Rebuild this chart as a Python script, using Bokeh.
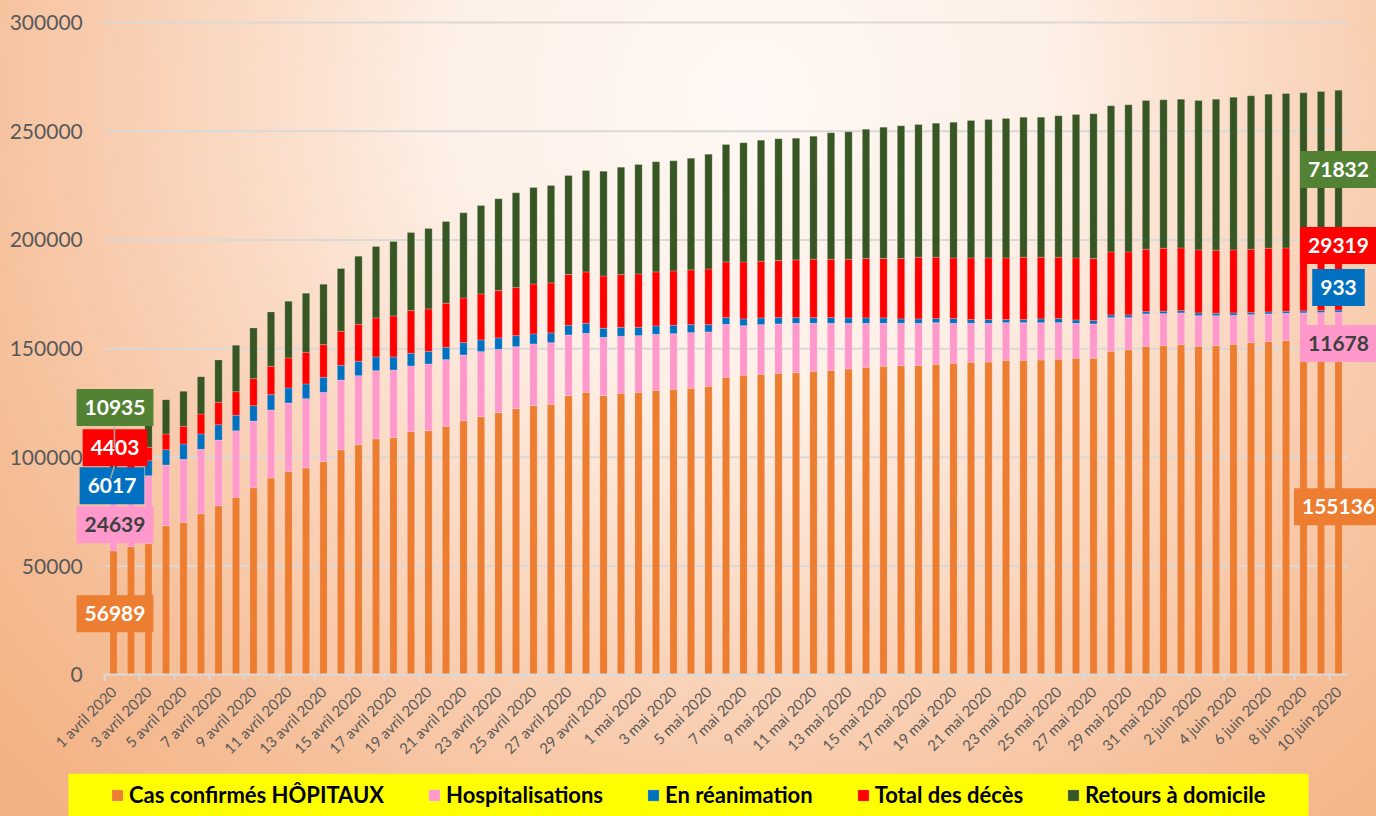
import math
from bokeh.plotting import figure
from bokeh.models import (ColumnDataSource, Range1d, FixedTicker, NumeralTickFormatter,
                          Label, Legend, LegendItem)
from bokeh.embed import file_html
from bokeh.resources import INLINE

# ---------------- data ----------------
mois = [("avril", 30), ("mai", 31), ("juin", 10)]
categories = [f"{d} {m} 2020" for m, n in mois for d in range(1, n + 1)]

cas_confirmes = [56989, 58900, 60300, 68550, 70090, 74080, 77760, 81590, 86040, 90490,
                 93400, 95090, 98010, 103530, 105830, 108440, 109050, 111810, 112270, 114270,
                 116870, 118720, 120560, 122400, 123780, 124390, 128380, 129910, 128380, 129450,
                 129910, 130830, 131290, 131750, 132670, 136820, 137740, 138200, 138660, 138960,
                 139580, 140040, 140650, 141420, 141880, 142190, 142190, 142800, 143260, 143720,
                 143870, 144640, 144640, 144790, 145100, 145560, 145560, 148780, 149550, 151080,
                 151390, 151850, 151080, 151390, 152000, 152770, 153230, 153690, 154170, 154650,
                 155136]
hospitalisations = [24639, 27800, 31280, 27920, 28990, 29600, 30220, 30680, 30680, 31290,
                    31600, 31910, 31910, 32060, 31750, 31450, 31140, 30220, 30680, 30680,
                    30220, 29910, 29140, 28530, 28380, 28380, 27920, 27150, 26840, 26230,
                    26080, 25770, 25620, 25620, 25010, 24390, 22860, 22860, 22700, 22700,
                    22090, 21630, 21020, 20250, 19790, 19480, 19480, 19170, 18410, 17950,
                    17800, 17330, 17330, 17180, 16870, 16110, 15800, 15490, 14730, 14880,
                    14730, 14570, 14110, 13810, 13350, 12890, 12730, 12580, 12280, 11980,
                    11678]
reanimation = [6017, 6400, 6900, 7060, 7060, 7060, 7060, 7060, 7060, 7060,
               6900, 6750, 6900, 6750, 6600, 6290, 5980, 5830, 5830, 5680,
               5680, 5370, 5220, 5060, 4600, 4450, 4450, 4600, 4140, 4140,
               3840, 3840, 3840, 3680, 3370, 3070, 3070, 3070, 2920, 2610,
               2610, 2610, 2450, 2450, 2450, 1990, 1990, 1840, 2150, 1690,
               1690, 1380, 1380, 1690, 1840, 1530, 1530, 1230, 1230, 1070,
               1070, 1070, 1230, 1070, 1070, 920, 920, 920, 925, 930,
               933]
deces = [4403, 5200, 6120, 7210, 8130, 9200, 10280, 10890, 12420, 13040,
         13810, 14570, 15030, 15650, 17030, 17950, 18870, 19640, 19480, 20250,
         20560, 21170, 21780, 22090, 23010, 23010, 23320, 23620, 24080, 24240,
         24540, 24850, 25000, 25160, 25620, 25620, 26230, 26080, 26230, 26540,
         26850, 26850, 27000, 27310, 27310, 27770, 28380, 28230, 27920, 28380,
         28380, 28380, 28690, 28380, 28230, 28530, 28530, 28990, 28990, 28690,
         29000, 28840, 28990, 28990, 28990, 29150, 29300, 29150, 29210, 29260,
         29319]
retours = [10935, 13500, 15400, 15800, 16110, 17180, 19480, 21320, 23320, 25000,
           26080, 27150, 27770, 28840, 31290, 32830, 34210, 35900, 36970, 37580,
           39120, 40650, 42190, 43570, 44330, 44790, 45560, 46630, 48170, 49400,
           50320, 50620, 50620, 51390, 52770, 54000, 54760, 55680, 55990, 55990,
           56600, 58140, 58600, 59520, 60440, 61050, 61050, 61670, 62430, 63200,
           63660, 64120, 64430, 64430, 65040, 65960, 66580, 67190, 67650, 68410,
           68260, 68410, 68720, 69490, 70250, 70560, 70870, 71020, 71080, 71460,
           71832]

series_names = ["Cas confirmés HÔPITAUX", "Hospitalisations", "En réanimation",
                "Total des décès", "Retours à domicile"]
y_ticks = [0, 50000, 100000, 150000, 200000, 250000, 300000]

# ---------------- styles ----------------
colors = ["#ED7D31", "#FF99CC", "#0070C0", "#FF0000", "#375623"]
label_bg = ["#ED7D31", "#FF99CC", "#0070C0", "#FF0000", "#548235"]
label_fg = ["white", "#404040", "white", "white", "white"]
FONT = "Lato"
GRID = "#D9D9D9"

keys = ["cas", "hosp", "rea", "dec", "ret"]
series = [cas_confirmes, hospitalisations, reanimation, deces, retours]
n = len(categories)
src = ColumnDataSource(dict(x=list(range(n)), **{k: v for k, v in zip(keys, series)}))

# the frame covers the whole canvas; axes are pinned at x=-0.5 and y=0
p = figure(width=1376, height=816, output_backend="svg", toolbar_location=None,
           x_range=Range1d(-6.457, 72.171), y_range=Range1d(-65187, 310120),
           min_border_left=0, min_border_right=0, min_border_top=0, min_border_bottom=0,
           background_fill_alpha=0, border_fill_alpha=0, outline_line_color=None)

# horizontal gridlines limited to the category span
gy = y_ticks[1:]
p.segment(x0=[-0.5] * len(gy), x1=[n - 0.5] * len(gy), y0=gy, y1=gy,
          line_color=GRID, line_width=2, level="underlay")

renderers = p.vbar_stack(keys, x="x", width=0.42, fill_color=colors, line_color="white",
                         line_alpha=0.3, line_width=0.7, source=src)

# axes
p.yaxis.fixed_location = -0.5
p.yaxis.ticker = FixedTicker(ticks=y_ticks)
p.yaxis.formatter = NumeralTickFormatter(format="0")
p.yaxis.axis_line_color = None
p.yaxis.major_tick_line_color = None
p.yaxis.minor_tick_line_color = None
p.yaxis.major_tick_out = 0
p.yaxis.major_tick_in = 0
p.yaxis.major_label_standoff = 22
p.yaxis.major_label_text_font = FONT
p.yaxis.major_label_text_font_size = "21px"
p.yaxis.major_label_text_color = "#595959"

tick_positions = list(range(0, n, 2))
p.xaxis.fixed_location = 0
p.xaxis.ticker = FixedTicker(ticks=tick_positions, minor_ticks=[t - 0.5 for t in tick_positions])
p.xaxis.bounds = (-0.5, n - 0.5)
p.xaxis.major_label_overrides = {t: categories[t] for t in tick_positions}
p.xaxis.major_label_orientation = math.pi / 4
p.xaxis.major_label_text_font = FONT
p.xaxis.major_label_text_font_size = "15px"
p.xaxis.major_label_text_color = "#595959"
p.xaxis.major_label_standoff = 8
p.xaxis.axis_line_color = GRID
p.xaxis.axis_line_width = 2
p.xaxis.major_tick_line_color = None
p.xaxis.major_tick_out = 0
p.xaxis.major_tick_in = 0
p.xaxis.minor_tick_line_color = GRID
p.xaxis.minor_tick_line_width = 2
p.xaxis.minor_tick_out = 6
p.xaxis.minor_tick_in = 0

p.xgrid.grid_line_color = None
p.ygrid.grid_line_color = None

# ---------------- value labels on first / last bars ----------------
left_pos = [(0.086, 28100), (0.086, 69050), (-0.086, 86990), (0.086, 104470), (0.086, 122870)]
right_pos = [(n - 1, 77330), (n - 1, 152310), (n - 1, 178070), (n - 1, 197390), (n - 1, 232350)]

for xi, pos in [(0, left_pos), (n - 1, right_pos)]:
    for s, (lx, ly), bg, fg in zip(series, pos, label_bg, label_fg):
        p.add_layout(Label(x=lx, y=ly, text=str(s[xi]), text_font=FONT, text_font_size="21px",
                           text_font_style="bold", text_color=fg, text_align="center",
                           text_baseline="middle", background_fill_color=bg,
                           padding=dict(left=8, right=8, top=11, bottom=11)))

# leader lines between the stacked labels of the first bar
lx_line = left_pos[4][0] - 0.03
p.segment(x0=[lx_line, lx_line], y0=[left_pos[4][1] - 8700, left_pos[3][1] - 8300],
          x1=[lx_line, lx_line - 0.23], y1=[left_pos[3][1], left_pos[3][1] - 14300],
          line_color="#A6A6A6", line_width=1.5, level="overlay")

# ---------------- legend band ----------------
p.quad(left=-2.571, right=68.286, top=-45499, bottom=-65187,
       fill_color="#FFFF00", line_color=None)

items = [LegendItem(label=nm, renderers=[r]) for nm, r in zip(series_names, renderers)]
legend = Legend(items=items, orientation="horizontal", location=(110, 8),
                glyph_width=14, glyph_height=14, label_standoff=5, spacing=43,
                padding=0, margin=0, background_fill_alpha=0, border_line_color=None,
                label_text_font=FONT, label_text_font_style="bold",
                label_text_font_size="22px", label_text_color="black", label_height=24)
p.add_layout(legend)

html = file_html(p, INLINE, title="Covid-19 hôpitaux")
css = ("<style>html{background:radial-gradient(circle at 750px 100px, #FFF8F4 0px, "
       "#FDF0E7 300px, #F9CEB1 630px, #F5BF99 800px, #F4B183 1000px) fixed;}"
       "body{background:transparent;}</style>")
html = html.replace("</head>", css + "</head>", 1)
open("out.html", "w").write(html)
